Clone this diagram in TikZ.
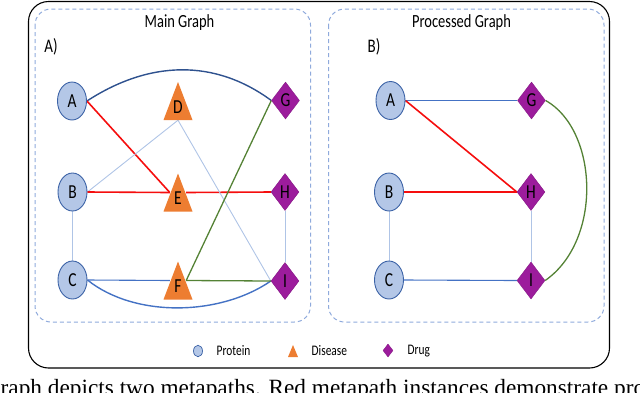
\documentclass[tikz,border=0pt]{standalone}
\usepackage{fontspec}
\usepackage{graphicx}
\setmainfont{Carlito}
\newfontfamily\capfont{Liberation Serif}
\usetikzlibrary{shapes.geometric}
\pgfdeclarelayer{bg}
\pgfsetlayers{bg,main}
\definecolor{protfill}{HTML}{B4C7E7}
\definecolor{protdraw}{HTML}{3B62A6}
\definecolor{disfill}{HTML}{ED7D31}
\definecolor{drugfill}{HTML}{9C1C9C}
\definecolor{redc}{HTML}{F50E0E}
\definecolor{greenc}{HTML}{548235}
\definecolor{litec}{HTML}{AFC4E6}
\definecolor{midc}{HTML}{4472C4}
\definecolor{navyc}{HTML}{2F528F}
\definecolor{dashc}{HTML}{8FAADC}
\newcommand\vs[1]{\scalebox{1}[1.28]{#1}}
\begin{document}
\begin{tikzpicture}[x=1pt,y=-1pt,
  protein/.style={ellipse, draw=protdraw, fill=protfill, line width=0.9pt, minimum width=29pt, minimum height=38pt, inner sep=0pt, font=\fontsize{15.5}{16}\selectfont},
  disease/.style={rectangle, minimum width=16pt, minimum height=38pt, inner sep=0pt},
  drug/.style={diamond, fill=drugfill, draw=drugfill!85!black, line width=0.4pt, minimum width=28pt, minimum height=37pt, inner sep=0pt, font=\fontsize{15.5}{16}\selectfont},
  dislabel/.style={font=\fontsize{15.5}{16}\selectfont, inner sep=0pt},
  redl/.style={draw=redc, line width=1.6pt},
  greenl/.style={draw=greenc, line width=1.3pt},
  litel/.style={draw=litec, line width=0.9pt},
  midl/.style={draw=midc, line width=1.1pt},
  navyl/.style={draw=navyc, line width=1.4pt},
  curvel/.style={draw=midc, line width=1.4pt},
  dashbox/.style={draw=dashc, line width=1pt, dash pattern=on 4pt off 3pt, rounded corners=16pt},
  titletext/.style={font=\fontsize{14.5}{15}\selectfont, inner sep=0pt},
  legtext/.style={font=\fontsize{11.4}{12}\selectfont, inner sep=0pt, anchor=west}
]
\useasboundingbox (0,0) rectangle (640,392);
\clip (0,0) rectangle (640,392);

% frames
\draw[black, line width=1.1pt, rounded corners=20pt] (28.5,1.5) rectangle (609.5,368);
\draw[dashbox] (35,9) rectangle (310.5,322);
\draw[dashbox] (328.5,9) rectangle (604,322);

\node[titletext] (t1) at (179.5,22.5) {\vs{Main Graph}};
\node[titletext] (t2) at (461.5,22.5) {\vs{Processed Graph}};
\node[titletext, font=\fontsize{15}{15}\selectfont] (pa) at (51,46.5) {\vs{A)}};
\node[titletext, font=\fontsize{15}{15}\selectfont] (pb) at (374,46.5) {\vs{B)}};

% left graph nodes
\node[protein] (A) at (72,101) {\vs{A}};
\node[protein] (B) at (72.5,192) {\vs{B}};
\node[protein] (C) at (72.5,280) {\vs{C}};
\foreach \n/\x/\y in {D/178/101, E/178/192.5, F/178/280.5} {
  \fill[disfill] (\x-14.5,\y+19) -- (\x+14.5,\y+19) -- (\x,\y-19) -- cycle;
  \node[disease, label={[dislabel, yshift=-6pt]center:\vs{\n}}] (\n) at (\x,\y) {};
}
\node[drug] (G) at (285.5,100.5) {\vs{G}};
\node[drug] (H) at (285,192) {\vs{H}};
\node[drug] (I) at (285,281) {\vs{I}};

% right graph nodes
\node[protein] (A2) at (390.5,100.5) {\vs{A}};
\node[protein] (B2) at (389,192) {\vs{B}};
\node[protein] (C2) at (389,280) {\vs{C}};
\node[drug] (G2) at (531.5,100.5) {\vs{G}};
\node[drug] (H2) at (531,192) {\vs{H}};
\node[drug] (I2) at (531,280.5) {\vs{I}};

\begin{pgfonlayer}{bg}
% left edges
\draw[navyl] (A.east) .. controls (150,60) and (215,59) .. (G.west);
\draw[redl] (A.east) -- (E.west);
\draw[litel] (B.east) -- (D.south);
\draw[redl] (B.east) -- (E.west);
\draw[redl] (E.east) -- (H.west);
\draw[litel] (D.south) -- (I.west);
\draw[litel] (B.south) -- (C.north);
\draw[midl] (C.east) -- (F.west);
\draw[curvel] (C.east) .. controls (135,318) and (220,316) .. (I.west);
\draw[greenl] (F.east) -- (G.west);
\draw[greenl] (F.east) -- (I.west);
\draw[litel] (H.south) -- (I.north);
% right edges
\draw[midl] (A2.east) -- (G2.west);
\draw[redl] (A2.east) -- (H2.west);
\draw[redl] (B2.east) -- (H2.west);
\draw[litel] (B2.south) -- (C2.north);
\draw[midl] (C2.east) -- (I2.west);
\draw[litel] (H2.south) -- (I2.north);
\draw[greenl] (G2.east) .. controls (598,130) and (603,240) .. (I2.east);
\end{pgfonlayer}

% legend
\node[protein, minimum width=9pt, minimum height=11.5pt, line width=0.7pt] (lp) at (198,351) {};
\fill[disfill] (288,357) -- (298,357) -- (293,345) -- cycle;
\coordinate (ldis) at (293,351);
\node[drug, minimum width=10pt, minimum height=13pt] (ldr) at (388,350.5) {};
\node[legtext] (lt1) at (216.5,351) {\vs{Protein}};
\node[legtext] (lt2) at (311.5,351) {\vs{Disease}};
\node[legtext] (lt3) at (407.5,351) {\vs{Drug}};

% caption fragment (cut by the page edges, as in the reference)
\node[anchor=base west, inner sep=0pt, font=\capfont\fontsize{23.3}{24}\selectfont] (cap) at (0.5,395.5) {raph depicts two metapaths. Red metapath instances demonstrate pro};
\end{tikzpicture}
\end{document}
